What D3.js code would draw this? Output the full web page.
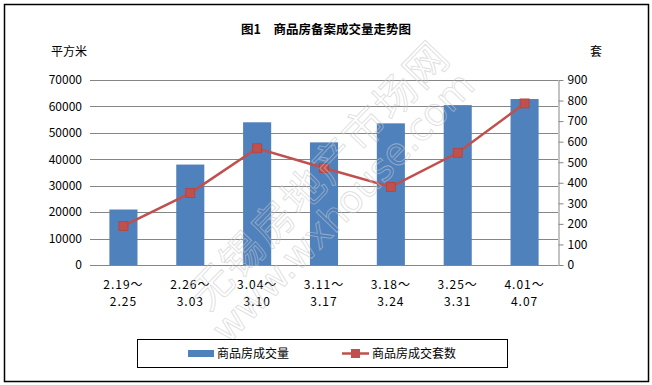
<!DOCTYPE html>
<html>
<head>
<meta charset="utf-8">
<script src="https://cdn.jsdelivr.net/npm/d3@7"></script>
<style>
  body { margin: 0; background: #fff; }
  text { font-family: "Noto Sans CJK SC", "DejaVu Sans", sans-serif; }
</style>
</head>
<body>
<svg></svg>
<script>
'use strict';

// data
var weeksTop = ['2.19～', '2.26～', '3.04～', '3.11～', '3.18～', '3.25～', '4.01～'];
var weeksBottom = ['2.25', '3.03', '3.10', '3.17', '3.24', '3.31', '4.07'];
var area = [21000, 38000, 54000, 46400, 53600, 60500, 62800];   // 平方米
var units = [190, 350, 568, 472, 380, 546, 786];                 // 套
var leftTicks = [0, 10000, 20000, 30000, 40000, 50000, 60000, 70000];
var rightTicks = [0, 100, 200, 300, 400, 500, 600, 700, 800, 900];

var SVG_SIZE = { width: 652, height: 385 };
var PLOT = { left: 90, right: 558, top: 80, bottom: 265 };

var BAR_COLOR = '#4F81BD';
var LINE_COLOR = '#C0504D';

var svg = d3.select('svg')
    .attr('width', SVG_SIZE.width).attr('height', SVG_SIZE.height);

// outer frame
svg.append('rect')
    .attr('x', 4.5).attr('y', 4.5)
    .attr('width', 644).attr('height', 377)
    .attr('fill', '#fff').attr('stroke', '#000').attr('stroke-width', 1.5);

var x = d3.scaleBand()
    .domain(d3.range(weeksTop.length))
    .range([PLOT.left, PLOT.right])
    .paddingInner(0.58).paddingOuter(0.29);

var yLeft = d3.scaleLinear().domain([0, 70000]).range([PLOT.bottom, PLOT.top]);
var yRight = d3.scaleLinear().domain([0, 900]).range([PLOT.bottom, PLOT.top]);

// gridlines
svg.append('g')
    .selectAll('line')
    .data(leftTicks.slice(1))
    .enter().append('line')
    .attr('x1', PLOT.left).attr('x2', PLOT.right)
    .attr('y1', function (d) { return Math.round(yLeft(d)) + 0.5; })
    .attr('y2', function (d) { return Math.round(yLeft(d)) + 0.5; })
    .attr('stroke', '#868686').attr('stroke-width', 1);

// bars
svg.append('g')
    .selectAll('rect')
    .data(area)
    .enter().append('rect')
    .attr('x', function (d, i) { return x(i); })
    .attr('width', x.bandwidth())
    .attr('y', function (d) { return yLeft(d); })
    .attr('height', function (d) { return yLeft(0) - yLeft(d); })
    .attr('fill', BAR_COLOR);

// bottom axis line
svg.append('line')
    .attr('x1', PLOT.left).attr('x2', PLOT.right)
    .attr('y1', PLOT.bottom + 0.5).attr('y2', PLOT.bottom + 0.5)
    .attr('stroke', '#868686');

// left axis (labels only)
var leftAxis = svg.append('g')
    .attr('transform', 'translate(' + PLOT.left + ',0)')
    .call(d3.axisLeft(yLeft).tickValues(leftTicks).tickSize(0).tickPadding(8).tickFormat(d3.format('d')));
leftAxis.select('.domain').remove();

// right axis
var rightAxis = svg.append('g')
    .attr('transform', 'translate(' + (PLOT.right + 0.5) + ',0)')
    .call(d3.axisRight(yRight).tickValues(rightTicks).tickSize(5).tickPadding(4).tickSizeOuter(0));
rightAxis.select('.domain').attr('stroke', '#868686');
rightAxis.selectAll('.tick line').attr('stroke', '#868686');

svg.selectAll('.tick text')
    .attr('font-size', 12).attr('fill', '#000')
    .style('font-family', '"Noto Sans CJK SC", sans-serif');

// category labels, two lines
var cats = svg.append('g').selectAll('g')
    .data(weeksTop)
    .enter().append('g')
    .attr('transform', function (d, i) { return 'translate(' + (x(i) + x.bandwidth() / 2) + ',0)'; });
cats.append('text')
    .attr('y', 289).attr('text-anchor', 'middle').attr('font-size', 12)
    .attr('letter-spacing', 1)
    .text(function (d) { return d; });
cats.append('text')
    .attr('y', 306).attr('text-anchor', 'middle').attr('font-size', 12)
    .attr('letter-spacing', 1)
    .text(function (d, i) { return weeksBottom[i]; });

// line series
var line = d3.line()
    .x(function (d, i) { return x(i) + x.bandwidth() / 2; })
    .y(function (d) { return yRight(d); });

svg.append('path')
    .datum(units)
    .attr('d', line)
    .attr('fill', 'none')
    .attr('stroke', LINE_COLOR)
    .attr('stroke-width', 2.5);

svg.append('g')
    .selectAll('rect')
    .data(units)
    .enter().append('rect')
    .attr('x', function (d, i) { return x(i) + x.bandwidth() / 2 - 4.5; })
    .attr('y', function (d) { return yRight(d) - 4.5; })
    .attr('width', 9).attr('height', 9)
    .attr('fill', LINE_COLOR)
    .attr('stroke', '#B6423F').attr('stroke-width', 0.8);

// title and unit labels
svg.append('text')
    .attr('x', 326).attr('y', 34)
    .attr('text-anchor', 'middle')
    .attr('font-size', 12.5).attr('font-weight', 'bold')
    .text('图1　商品房备案成交量走势图');

svg.append('text')
    .attr('x', 51).attr('y', 56).attr('font-size', 12)
    .text('平方米');
svg.append('text')
    .attr('x', 590).attr('y', 56).attr('font-size', 12)
    .text('套');

// faint outlined watermark
var wm = svg.append('g')
    .attr('fill', 'none').attr('stroke', '#c8c8c8').attr('stroke-opacity', 0.6)
    .attr('stroke-width', 0.9);
wm.append('text')
    .attr('transform', 'translate(208,312) rotate(-46)')
    .attr('font-size', 42).attr('letter-spacing', 2)
    .text('无锡房地产市场网');
wm.append('text')
    .attr('transform', 'translate(228,345) rotate(-46)')
    .attr('font-size', 38)
    .attr('textLength', 358).attr('lengthAdjust', 'spacing')
    .style('font-family', '"DejaVu Sans", sans-serif')
    .text('www.wxhouse.com');

// legend
var legend = svg.append('g');
legend.append('rect')
    .attr('x', 137.5).attr('y', 339.5)
    .attr('width', 370).attr('height', 28)
    .attr('fill', '#fff').attr('stroke', '#000');

legend.append('rect')
    .attr('x', 188).attr('y', 350).attr('width', 26).attr('height', 7)
    .attr('fill', BAR_COLOR);
legend.append('text')
    .attr('x', 217).attr('y', 358).attr('font-size', 12)
    .text('商品房成交量');

legend.append('line')
    .attr('x1', 342).attr('x2', 369).attr('y1', 353.5).attr('y2', 353.5)
    .attr('stroke', LINE_COLOR).attr('stroke-width', 2.5);
legend.append('rect')
    .attr('x', 351).attr('y', 349).attr('width', 9).attr('height', 9)
    .attr('fill', LINE_COLOR);
legend.append('text')
    .attr('x', 372).attr('y', 358).attr('font-size', 12)
    .text('商品房成交套数');
</script>
</body>
</html>
